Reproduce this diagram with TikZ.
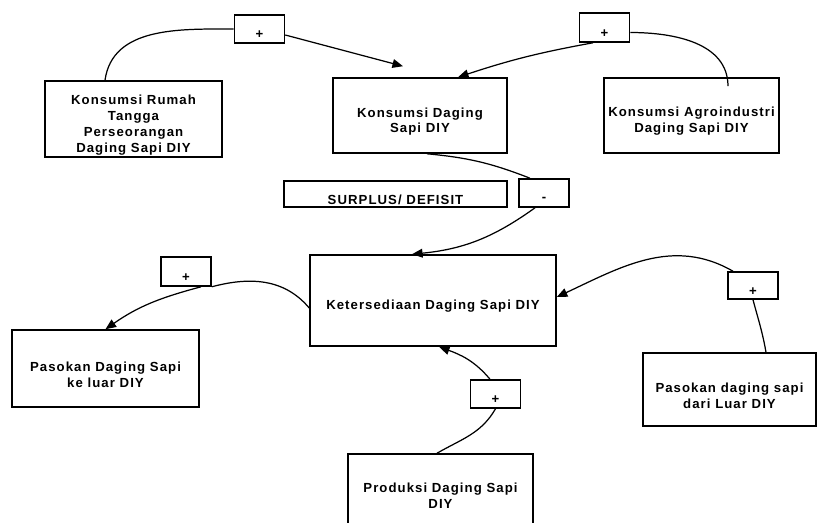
\documentclass[tikz,border=0pt]{standalone}
\usepackage{fontspec}
\newfontfamily\boxfont[LetterSpace=8]{Liberation Sans}
\usetikzlibrary{arrows.meta}

\tikzset{
  box/.style 2 args={draw, line width=0.9pt, inner sep=0pt, minimum width=#1, minimum height=#2},
  every label/.style={font=\boxfont\bfseries\fontsize{7.5}{9}\selectfont, align=center, yshift=-0.12cm},
  link/.style={line width=0.7pt},
  arr/.style={link, -{Triangle[length=6pt,width=5pt]}}
}

\begin{document}
\begin{tikzpicture}[x=0.02cm, y=-0.02cm]
  \useasboundingbox (0,0) rectangle (818,522);

  % blocks
  \node[box={3.54cm}{1.52cm}, label={center:{Konsumsi Rumah\\Tangga\\Perseorangan\\Daging Sapi DIY}}] (rt) at (133.5,119) {};
  \node[box={3.48cm}{1.50cm}, label={center:{Konsumsi Daging\\Sapi DIY}}] (kd) at (420,115.5) {};
  \node[box={3.50cm}{1.50cm}, label={center:{Konsumsi Agroindustri\\Daging Sapi DIY}}] (ka) at (691.5,115.5) {};
  \node[box={4.46cm}{0.52cm}, label={center:{SURPLUS/ DEFISIT}}] (sd) at (395.5,194) {};
  \node[box={4.92cm}{1.82cm}, label={center:{Ketersediaan Daging Sapi DIY}}] (kt) at (433,300.5) {};
  \node[box={3.74cm}{1.54cm}, label={center:{Pasokan Daging Sapi\\ke luar DIY}}] (pk) at (105.5,368.5) {};
  \node[box={3.46cm}{1.46cm}, label={center:{Pasokan daging sapi\\dari Luar DIY}}] (pl) at (729.5,389.5) {};
  \node[box={3.70cm}{1.44cm}, label={center:{Produksi Daging Sapi\\DIY}}] (pr) at (440.5,490) {};

  % signs
  \node[box={1cm}{0.56cm}, label=center:+] (p1) at (259.5,29) {};
  \node[box={1cm}{0.58cm}, label=center:+] (p2) at (604.5,27.5) {};
  \node[box={1cm}{0.56cm}, label=center:-] (m1) at (544,193) {};
  \node[box={1cm}{0.58cm}, label=center:+] (p3) at (186,271.5) {};
  \node[box={1cm}{0.54cm}, label=center:+] (p4) at (753,285.5) {};
  \node[box={1cm}{0.56cm}, label=center:+] (p5) at (495.5,394) {};

  % links
  \draw[link] ([xshift=-0.57cm]rt.north) to[out=82, in=180] (p1.west);
  \draw[arr] ([yshift=-0.12cm]p1.east) -- ([xshift=-0.34cm, yshift=0.22cm]kd.north);
  \draw[link] ([xshift=0.73cm, yshift=-0.18cm]ka.north) to[out=90, in=0] ([yshift=-0.1cm]p2.east);
  \draw[arr] ([xshift=-0.23cm]p2.south) to[bend right=4] ([xshift=0.76cm]kd.north);
  \draw[link] ([xshift=0.14cm]kd.south) to[bend left=8] ([xshift=-0.28cm]m1.north);
  \draw[arr] ([xshift=-0.18cm]m1.south) to[bend left=15] ([xshift=-0.42cm]kt.north);
  \draw[link] ([yshift=-0.15cm]kt.west) to[out=130, in=15] (p3.south east);
  \draw[arr] ([xshift=0.3cm]p3.south) to[out=195, in=35] (pk.north);
  \draw[link] ([xshift=0.73cm]pl.north) to[out=100, in=-75] (p4.south);
  \draw[arr] ([xshift=-0.4cm]p4.north) to[out=150, in=25] ([yshift=0.07cm]kt.east);
  \draw[link] ([xshift=-0.07cm]pr.north) to[out=30, in=-120] (p5.south);
  \draw[arr] ([xshift=-0.11cm]p5.north) to[out=130, in=-20] ([xshift=0.12cm]kt.south);
\end{tikzpicture}
\end{document}
